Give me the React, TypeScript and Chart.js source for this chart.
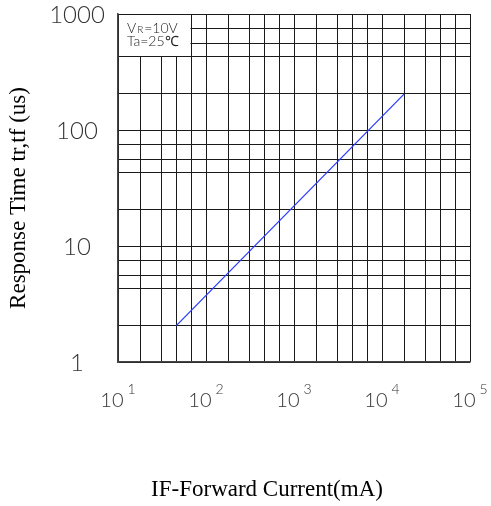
import React, { useEffect, useRef } from "react";
import { Chart, registerables } from "chart.js";

Chart.register(...registerables);

// ---- data ----
const currentMA = [46, 17800];
const responseUs = [2.06, 204];

// ---- axes / grid ----
const xDecades = [10, 100, 1000, 10000];
const xGridSteps = [1, 1.78, 3.16, 4.62, 6.84];
const xMin = 10;
const xMax = 100000;
const xTickValues = [10, 100, 1000, 10000, 100000];
const xTickExponents = ["1", "2", "3", "4", "5"];

const yDecades = [1, 10, 100];
const yGridSteps = [1, 2.06, 4.26, 5.62, 7.57];
const yMin = 1;
const yMax = 1000;
const yTickValues = [1, 10, 100, 1000];
const yTickLabels = ["1", "10", "100", "1000"];

const yTitle = "Response Time tr,tf (us)";
const xTitle = "IF-Forward Current(mA)";
const noteLine1 = ["V", "R", "=10V"];
const noteLine2 = "Ta=25\u2103";

const xGrid = [...xDecades.flatMap((d) => xGridSteps.map((s) => d * s)), xMax];
const yGrid = [...yDecades.flatMap((d) => yGridSteps.map((s) => d * s)), yMax];

const TICK_FONT = "Lato";

const decor = {
  id: "decor",
  beforeDatasetsDraw(chart: any) {
    const { ctx, chartArea, scales } = chart;
    const x = scales.x;
    const y = scales.y;
    const bx = x.getPixelForValue(xDecades[0] * xGridSteps[4]);
    const by = y.getPixelForValue(yDecades[2] * yGridSteps[2]);
    ctx.save();
    ctx.fillStyle = "#fff";
    ctx.fillRect(chartArea.left + 1, chartArea.top + 1, bx - chartArea.left - 2, by - chartArea.top - 2);
    ctx.fillStyle = "#222";
    ctx.textBaseline = "alphabetic";
    ctx.textAlign = "left";
    let tx = chartArea.left + 9;
    ctx.font = `300 14px ${TICK_FONT}`;
    ctx.fillText(noteLine1[0], tx, chartArea.top + 19);
    tx += ctx.measureText(noteLine1[0]).width + 1;
    ctx.font = `300 10px ${TICK_FONT}`;
    ctx.fillText(noteLine1[1], tx, chartArea.top + 19);
    tx += ctx.measureText(noteLine1[1]).width + 1;
    ctx.font = `300 14px ${TICK_FONT}`;
    ctx.fillText(noteLine1[2], tx, chartArea.top + 19);
    ctx.fillText(noteLine2, chartArea.left + 9, chartArea.top + 32);
    ctx.restore();
  },
  afterDraw(chart: any) {
    const { ctx, chartArea, scales } = chart;
    const x = scales.x;
    const y = scales.y;
    ctx.save();
    // y tick labels
    ctx.fillStyle = "#333";
    ctx.font = `300 24px ${TICK_FONT}`;
    ctx.textAlign = "center";
    ctx.textBaseline = "middle";
    yTickValues.forEach((v, i) => {
      ctx.fillText(yTickLabels[i], chartArea.left - 41, y.getPixelForValue(v) + 1);
    });
    // x tick labels: 10 with superscript exponent
    xTickValues.forEach((v, i) => {
      const px = x.getPixelForValue(v);
      ctx.font = `300 20px ${TICK_FONT}`;
      const w1 = ctx.measureText("10").width;
      ctx.font = `300 14px ${TICK_FONT}`;
      const w2 = ctx.measureText(xTickExponents[i]).width;
      const start = px - (w1 + 4 + w2) / 2;
      ctx.textAlign = "left";
      ctx.textBaseline = "alphabetic";
      ctx.font = `300 20px ${TICK_FONT}`;
      ctx.fillText("10", start, chartArea.bottom + 45);
      ctx.font = `300 14px ${TICK_FONT}`;
      ctx.fillText(xTickExponents[i], start + w1 + 4, chartArea.bottom + 32);
    });
    // axis titles
    ctx.fillStyle = "#000";
    ctx.font = `23px "Liberation Serif"`;
    ctx.textAlign = "center";
    ctx.textBaseline = "alphabetic";
    ctx.fillText(xTitle, chartArea.left + 149, chartArea.bottom + 134);
    ctx.translate(chartArea.left - 99, (chartArea.top + chartArea.bottom) / 2 + 10);
    ctx.rotate(-Math.PI / 2);
    ctx.textBaseline = "middle";
    ctx.fillText(yTitle, 0, 0);
    ctx.restore();
  },
};

export default function App() {
  const ref = useRef<HTMLCanvasElement | null>(null);
  useEffect(() => {
    if (!ref.current) return;
    const chart = new Chart(ref.current, {
      type: "line",
      data: {
        datasets: [
          {
            data: currentMA.map((c, i) => ({ x: c, y: responseUs[i] })),
            borderColor: "#2b3dff",
            borderWidth: 1.3,
            pointRadius: 0,
            fill: false,
          },
        ],
      },
      options: {
        responsive: false,
        animation: false,
        layout: { padding: { left: 118, right: 21, top: 14, bottom: 144 } },
        plugins: { legend: { display: false }, tooltip: { enabled: false } },
        scales: {
          x: {
            type: "logarithmic",
            min: xMin,
            max: xMax,
            afterBuildTicks: (s: any) => {
              s.ticks = xGrid.map((v) => ({ value: v }));
            },
            ticks: { display: false },
            grid: { color: "#1a1a1a", lineWidth: 1, drawTicks: false },
            border: { display: true, color: "#444", width: 1.5 },
          },
          y: {
            type: "logarithmic",
            min: yMin,
            max: yMax,
            afterBuildTicks: (s: any) => {
              s.ticks = yGrid.map((v) => ({ value: v }));
            },
            ticks: { display: false },
            grid: { color: "#1a1a1a", lineWidth: 1, drawTicks: false },
            border: { display: true, color: "#444", width: 1.5 },
          },
        },
      },
      plugins: [decor],
    });
    return () => chart.destroy();
  }, []);
  return (
    <div style={{ position: "fixed", left: 0, top: 0, width: 491, height: 506, background: "#fff" }}>
      <canvas ref={ref} width={491} height={506} style={{ display: "block" }} />
    </div>
  );
}
